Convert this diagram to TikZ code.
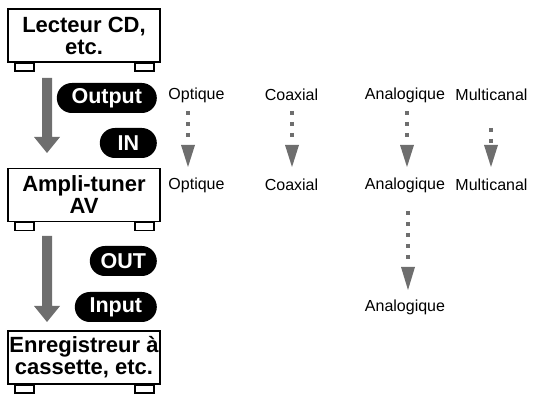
\documentclass[tikz,border=0pt]{standalone}
\usepackage{fontspec}
\setmainfont{Liberation Sans}
\usetikzlibrary{calc}
\definecolor{arrgray}{HTML}{6E6E6E}
\tikzset{
  x=1pt, y=-1pt,
  device/.style={draw, line width=1.8pt, fill=white, minimum width=152pt, minimum height=53pt,
    align=center, inner sep=0pt, font=\fontsize{22}{22}\selectfont\bfseries},
  pill/.style={fill=black, text=white, rounded corners=15pt, minimum height=30pt, inner xsep=4pt,
    inner ysep=0pt, anchor=east, font=\fontsize{21.5}{22}\selectfont\bfseries},
  lbl/.style={inner sep=0pt, font=\fontsize{16}{17}\selectfont},
  foot/.style={draw, line width=1.5pt, fill=white},
  dots/.style={draw=arrgray, line width=4pt, dash pattern=on 4pt off 7pt},
  head/.style={fill=arrgray},
  bigarrow/.style={fill=arrgray}
}
\newcommand{\feet}[1]{%
  \draw[foot] ($(#1.south west)+(8,0)$) rectangle ++(19,8);
  \draw[foot] ($(#1.south east)+(-26,0)$) rectangle ++(19,8);
}
\begin{document}
\begin{tikzpicture}
\useasboundingbox (0,0) rectangle (542,401);
% devices
\node[device] (cd) at (84,35.5) {Lecteur CD,\\etc.};
\feet{cd}
\node[device] (amp) at (84,195) {Ampli-tuner\\AV};
\feet{amp}
\node[device] (rec) at (84,357.5) {Enregistreur à\\cassette, etc.};
\feet{rec}
% big arrows
\coordinate (a1s) at (47,78);
\coordinate (a1t) at (47,153);
\fill[bigarrow] ($(a1s)+(-5,0)$) -- ($(a1t)+(-5,-16)$) -- ($(a1t)+(-13,-16)$) -- (a1t)
  -- ($(a1t)+(13,-16)$) -- ($(a1t)+(5,-16)$) -- ($(a1s)+(5,0)$) -- cycle;
\coordinate (a2s) at (47,236);
\coordinate (a2t) at (47,322);
\fill[bigarrow] ($(a2s)+(-5,0)$) -- ($(a2t)+(-5,-16)$) -- ($(a2t)+(-13,-16)$) -- (a2t)
  -- ($(a2t)+(13,-16)$) -- ($(a2t)+(5,-16)$) -- ($(a2s)+(5,0)$) -- cycle;
% pills
\node[pill, minimum width=100pt] (pout) at (157,98) {Output};
\node[pill, minimum width=57pt] (pin) at (157,143) {IN};
\node[pill, minimum width=67pt] (pOUT) at (157,261) {OUT};
\node[pill, minimum width=82pt] (pinput) at (157,307) {Input};
% labels
\node[lbl] (o1) at (196.5,95) {Optique};
\node[lbl] (c1) at (291.5,95) {Coaxial};
\node[lbl] (an1) at (405,95) {Analogique};
\node[lbl] (m1) at (491.5,95) {Multicanal};
\node[lbl] (o2) at (196.5,185) {Optique};
\node[lbl] (c2) at (291.5,185) {Coaxial};
\node[lbl] (an2) at (405,185) {Analogique};
\node[lbl] (m2) at (491.5,185) {Multicanal};
\node[lbl] (an3) at (405,307) {Analogique};
% dotted arrows
\foreach \x in {188, 292, 407} {
  \draw[dots] (\x,111) -- (\x,140);
  \fill[head] (\x-7,145) -- (\x+7,145) -- (\x,167) -- cycle;
}
\draw[dots] (491,128) -- (491,145);
\fill[head] (491-7,145) -- (491+7,145) -- (491,167) -- cycle;
\draw[dots] (408,211) -- (408,262);
\fill[head] (408-7,267) -- (408+7,267) -- (408,290) -- cycle;
\end{tikzpicture}
\end{document}
